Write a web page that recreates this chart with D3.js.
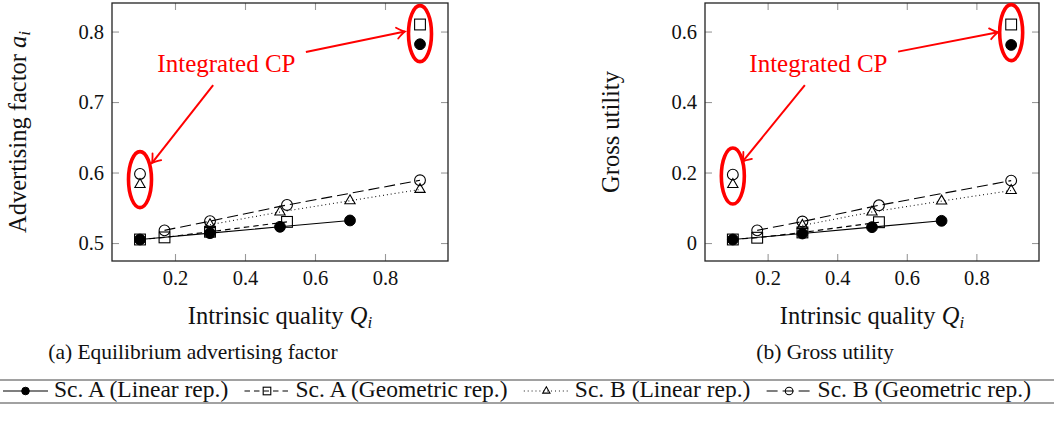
<!DOCTYPE html>
<html><head><meta charset="utf-8">
<script src="https://cdn.jsdelivr.net/npm/d3@7"></script>
<style>body{margin:0;background:#fff}svg{display:block}</style>
</head><body>
<svg id="c" width="1054" height="422"></svg>
<script>
// ---------- data ----------
const xAlin = [0.1, 0.3, 0.5, 0.7];
const xAgeo = [0.1, 0.17, 0.3, 0.52];
const xBlin = [0.3, 0.5, 0.7, 0.9];
const xBgeo = [0.17, 0.3, 0.52, 0.9];

const advAlin = [0.505, 0.514, 0.523, 0.532];
const advAgeo = [0.505, 0.508, 0.516, 0.530];
const advBlin = [0.526, 0.544, 0.560, 0.576];
const advBgeo = [0.518, 0.531, 0.554, 0.589];

const utilAlin = [0.010, 0.027, 0.045, 0.063];
const utilAgeo = [0.010, 0.015, 0.030, 0.059];
const utilBlin = [0.050, 0.088, 0.119, 0.149];
const utilBgeo = [0.036, 0.061, 0.107, 0.177];

// integrated CP points (Alin, Ageo, Blin, Bgeo)
const cpQuality = [0.9, 0.9, 0.1, 0.1];
const advCP = [0.782, 0.810, 0.583, 0.598];
const utilCP = [0.562, 0.620, 0.166, 0.194];

const xTicks = [0.2, 0.4, 0.6, 0.8];
const advTicks = [0.5, 0.6, 0.7, 0.8];
const utilTicks = [0, 0.2, 0.4, 0.6];

const seriesNames = ["Sc. A (Linear rep.)", "Sc. A (Geometric rep.)", "Sc. B (Linear rep.)", "Sc. B (Geometric rep.)"];
const annotationText = "Integrated CP";
// annotation anchors in data coordinates
const advLabel = [0.347, 0.7426];
const advArrows = [[[0.309, 0.724], [0.134, 0.6135]], [[0.574, 0.771], [0.857, 0.800]]];
const advEllipses = [[0.1, 0.590], [0.9, 0.797]];
const utilLabel = [0.346, 0.485];
const utilArrows = [[[0.307, 0.448], [0.128, 0.231]], [[0.575, 0.543], [0.862, 0.598]]];
const utilEllipses = [[0.1, 0.190], [0.9, 0.597]];

// ---------- styles ----------
const FONT = "'Liberation Serif', 'DejaVu Serif', serif";
const seriesStyle = [
  {mark: "dot", dash: null},
  {mark: "square", dash: "5.5,4"},
  {mark: "tri", dash: "0.9,3"},
  {mark: "circ", dash: "11,5"}
];

const svg = d3.select("#c");
const defs = svg.append("defs");
defs.append("marker").attr("id", "ah")
  .attr("viewBox", "-10 -7 12 14").attr("refX", 0).attr("refY", 0)
  .attr("markerWidth", 12).attr("markerHeight", 14)
  .attr("markerUnits", "userSpaceOnUse").attr("orient", "auto")
  .append("path").attr("d", "M-8,-5.5 Q-2.5,-1 0,0 Q-2.5,1 -8,5.5")
  .attr("fill", "none").attr("stroke", "#ff0000").attr("stroke-width", 1.8).attr("stroke-linecap", "round");

function enlarge(vals) {
  const [a, b] = d3.extent(vals);
  const p = (b - a) * 0.1;
  return [a - p, b + p];
}

function drawMark(g, type, cx, cy, s) {
  if (type === "dot") {
    g.append("circle").attr("cx", cx).attr("cy", cy).attr("r", s).attr("fill", "#000").attr("stroke", "#000");
  } else if (type === "square") {
    g.append("rect").attr("x", cx - s).attr("y", cy - s).attr("width", 2 * s).attr("height", 2 * s)
      .attr("fill", "none").attr("stroke", "#000").attr("stroke-width", 1.1);
  } else if (type === "tri") {
    const r = s * 1.1;
    g.append("path").attr("d", `M${cx},${cy - r}L${cx + r * 0.866},${cy + r / 2}L${cx - r * 0.866},${cy + r / 2}Z`)
      .attr("fill", "none").attr("stroke", "#000").attr("stroke-width", 1.1);
  } else {
    g.append("circle").attr("cx", cx).attr("cy", cy).attr("r", s).attr("fill", "none").attr("stroke", "#000").attr("stroke-width", 1.1);
  }
}

function panel(cfg) {
  const g = svg.append("g");
  const allX = [].concat(xAlin, xAgeo, xBlin, xBgeo, cpQuality);
  const allY = [].concat(...cfg.ys, cfg.cp);
  const x = d3.scaleLinear().domain(enlarge(allX)).range([cfg.left, cfg.right]);
  const y = d3.scaleLinear().domain(enlarge(allY)).range([cfg.bottom, cfg.top]);
  const fmt = d => d === 0 ? "0" : d3.format(".1f")(d);

  const styleAxis = (sel) => {
    sel.select(".domain").remove();
    sel.selectAll(".tick line").attr("stroke", "#999").attr("stroke-width", 1.1);
    sel.attr("font-family", FONT).attr("font-size", 20.5);
    sel.selectAll("text").attr("font-family", FONT).attr("font-size", 20.5).attr("fill", "#111");
  };
  g.append("g").attr("transform", `translate(0,${cfg.bottom})`)
    .call(d3.axisBottom(x).tickValues(xTicks).tickSize(-7).tickPadding(9).tickFormat(fmt)).call(styleAxis);
  g.append("g").attr("transform", `translate(0,${cfg.top})`)
    .call(d3.axisTop(x).tickValues(xTicks).tickSize(-7).tickFormat("")).call(styleAxis);
  g.append("g").attr("transform", `translate(${cfg.left},0)`)
    .call(d3.axisLeft(y).tickValues(cfg.ticks).tickSize(-7).tickPadding(8).tickFormat(fmt)).call(styleAxis);
  g.append("g").attr("transform", `translate(${cfg.right},0)`)
    .call(d3.axisRight(y).tickValues(cfg.ticks).tickSize(-7).tickFormat("")).call(styleAxis);

  g.append("rect").attr("x", cfg.left).attr("y", cfg.top)
    .attr("width", cfg.right - cfg.left).attr("height", cfg.bottom - cfg.top)
    .attr("fill", "none").attr("stroke", "#222").attr("stroke-width", 1.3);

  const xs = [xAlin, xAgeo, xBlin, xBgeo];
  const line = d3.line().x(d => x(d[0])).y(d => y(d[1]));
  seriesStyle.forEach((st, i) => {
    const pts = xs[i].map((q, j) => [q, cfg.ys[i][j]]);
    g.append("path").attr("d", line(pts)).attr("fill", "none").attr("stroke", "#000")
      .attr("stroke-width", 1.1).attr("stroke-dasharray", st.dash);
    pts.forEach(p => drawMark(g, st.mark, x(p[0]), y(p[1]), 5.4));
    drawMark(g, st.mark, x(cpQuality[i]), y(cfg.cp[i]), 5.4);
  });

  // annotations
  const red = "#ff0000";
  cfg.ellipses.forEach(e => {
    g.append("ellipse").attr("cx", x(e[0])).attr("cy", y(e[1])).attr("rx", 11.5).attr("ry", 28)
      .attr("fill", "none").attr("stroke", red).attr("stroke-width", 3.6);
  });
  cfg.arrows.forEach(a => {
    g.append("line").attr("x1", x(a[0][0])).attr("y1", y(a[0][1])).attr("x2", x(a[1][0])).attr("y2", y(a[1][1]))
      .attr("stroke", red).attr("stroke-width", 2).attr("marker-end", "url(#ah)");
  });
  g.append("text").attr("x", x(cfg.label[0])).attr("y", y(cfg.label[1]))
    .attr("text-anchor", "middle").attr("font-family", FONT).attr("font-size", 25).attr("fill", red)
    .text(annotationText);

  // axis labels
  const xl = g.append("text").attr("x", (cfg.left + cfg.right) / 2).attr("y", 324)
    .attr("text-anchor", "middle").attr("font-family", FONT).attr("font-size", 24.5).attr("fill", "#111");
  xl.append("tspan").text("Intrinsic quality ");
  xl.append("tspan").attr("font-style", "italic").text("Q");
  xl.append("tspan").attr("font-style", "italic").attr("font-size", 17).attr("dy", 4).text("i");

  const yl = g.append("text").attr("transform", `translate(${cfg.ylabelX},${(cfg.top + cfg.bottom) / 2}) rotate(-90)`)
    .attr("text-anchor", "middle").attr("font-family", FONT).attr("font-size", 24.5).attr("fill", "#111");
  cfg.ylabel(yl);

  g.append("text").attr("x", cfg.capX).attr("y", 359).attr("text-anchor", "middle")
    .attr("font-family", FONT).attr("font-size", 21.5).attr("fill", "#111").text(cfg.caption);
}

panel({
  left: 112, right: 448, top: 3, bottom: 261,
  ys: [advAlin, advAgeo, advBlin, advBgeo], cp: advCP, ticks: advTicks,
  label: advLabel, arrows: advArrows, ellipses: advEllipses,
  ylabelX: 26,
  ylabel: t => { t.append("tspan").text("Advertising factor "); t.append("tspan").attr("font-style", "italic").text("a");
    t.append("tspan").attr("font-style", "italic").attr("font-size", 17).attr("dy", 4).text("i"); },
  capX: 193, caption: "(a) Equilibrium advertising factor"
});
panel({
  left: 705, right: 1039, top: 3, bottom: 261,
  ys: [utilAlin, utilAgeo, utilBlin, utilBgeo], cp: utilCP, ticks: utilTicks,
  label: utilLabel, arrows: utilArrows, ellipses: utilEllipses,
  ylabelX: 619,
  ylabel: t => t.text("Gross utility"),
  capX: 825, caption: "(b) Gross utility"
});

// ---------- legend ----------
const lg = svg.append("g");
lg.append("line").attr("x1", 0).attr("x2", 1054).attr("y1", 380).attr("y2", 380).attr("stroke", "#444").attr("stroke-width", 1.2);
lg.append("line").attr("x1", 0).attr("x2", 1054).attr("y1", 403).attr("y2", 403).attr("stroke", "#444").attr("stroke-width", 1.2);
const symW = 45, symGap = 6;
const items = seriesNames.map((name, i) => {
  const gi = lg.append("g");
  const t = gi.append("text").attr("x", symW + symGap).attr("y", 397).attr("font-family", FONT)
    .attr("font-size", 23.5).attr("fill", "#111").text(name);
  const st = seriesStyle[i];
  gi.append("line").attr("x1", 0).attr("x2", symW).attr("y1", 391).attr("y2", 391)
    .attr("stroke", "#000").attr("stroke-width", 1.1).attr("stroke-dasharray", st.dash);
  drawMark(gi, st.mark, symW / 2, 391, 3.8);
  return {g: gi, w: symW + symGap + t.node().getComputedTextLength()};
});
const startX = 3, endX = 1031;
const total = d3.sum(items, d => d.w);
const gap = (endX - startX - total) / (items.length - 1);
let cx = startX;
items.forEach(it => { it.g.attr("transform", `translate(${cx},0)`); cx += it.w + gap; });
</script>
</body></html>
